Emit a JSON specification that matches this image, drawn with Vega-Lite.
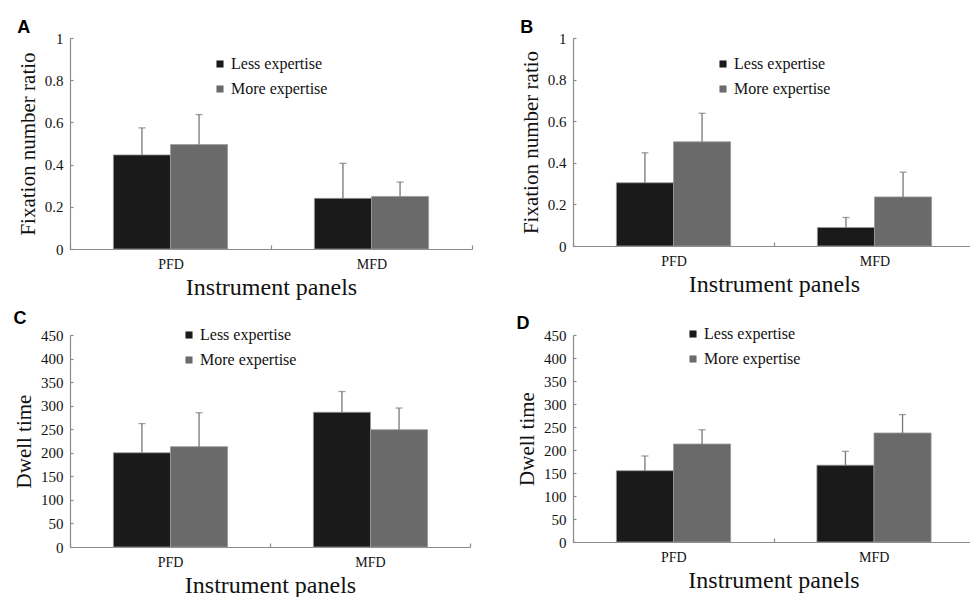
{
  "$schema": "https://vega.github.io/schema/vega-lite/v6.json",
  "background": "white",
  "padding": {"left": 13, "top": 19, "right": 0, "bottom": 0},
  "datasets": {
    "bars": [
      {"panel": "A", "instrument": "PFD", "group": "Less expertise", "mean": 0.446, "upper": 0.574},
      {"panel": "A", "instrument": "PFD", "group": "More expertise", "mean": 0.495, "upper": 0.637},
      {"panel": "A", "instrument": "MFD", "group": "Less expertise", "mean": 0.240, "upper": 0.406},
      {"panel": "A", "instrument": "MFD", "group": "More expertise", "mean": 0.249, "upper": 0.317},
      {"panel": "B", "instrument": "PFD", "group": "Less expertise", "mean": 0.304, "upper": 0.448},
      {"panel": "B", "instrument": "PFD", "group": "More expertise", "mean": 0.501, "upper": 0.638},
      {"panel": "B", "instrument": "MFD", "group": "Less expertise", "mean": 0.089, "upper": 0.137},
      {"panel": "B", "instrument": "MFD", "group": "More expertise", "mean": 0.236, "upper": 0.355},
      {"panel": "C", "instrument": "PFD", "group": "Less expertise", "mean": 200, "upper": 262},
      {"panel": "C", "instrument": "PFD", "group": "More expertise", "mean": 213, "upper": 285},
      {"panel": "C", "instrument": "MFD", "group": "Less expertise", "mean": 286, "upper": 330},
      {"panel": "C", "instrument": "MFD", "group": "More expertise", "mean": 249, "upper": 295},
      {"panel": "D", "instrument": "PFD", "group": "Less expertise", "mean": 155, "upper": 187},
      {"panel": "D", "instrument": "PFD", "group": "More expertise", "mean": 213, "upper": 244},
      {"panel": "D", "instrument": "MFD", "group": "Less expertise", "mean": 167, "upper": 197},
      {"panel": "D", "instrument": "MFD", "group": "More expertise", "mean": 237, "upper": 277}
    ]
  },
  "columns": 2,
  "spacing": {"column": 43, "row": 11},
  "resolve": {"legend": {"color": "independent"}, "scale": {"y": "independent"}},
  "concat": [
    {
      "title": {"text": "A", "offset": -6},
      "width": 402, "height": 211,
      "data": {"name": "bars"},
      "transform": [{"filter": "datum.panel === 'A'"}],
      "encoding": {
        "x": {"field": "instrument", "type": "nominal", "sort": ["PFD", "MFD"], "scale": {"paddingInner": 0, "paddingOuter": 0}, "title": "Instrument panels"},
        "xOffset": {"field": "group", "type": "nominal", "sort": ["Less expertise", "More expertise"], "scale": {"paddingInner": 0, "paddingOuter": 0.76}}
      },
      "layer": [
        {"mark": {"type": "bar", "stroke": "#9a9a9a", "strokeWidth": 0.8},
         "encoding": {
           "y": {"field": "mean", "type": "quantitative", "scale": {"domain": [0, 1]}, "axis": {"values": [0, 0.2, 0.4, 0.6, 0.8, 1], "format": "~g"}, "title": "Fixation number ratio"},
           "color": {"field": "group", "type": "nominal", "scale": {"domain": ["Less expertise", "More expertise"], "range": ["#1a1a1a", "#6a6a6a"]}, "legend": {"legendX": 142, "legendY": 18}}
         }},
        {"mark": {"type": "rule", "color": "#777777", "strokeWidth": 1.3},
         "encoding": {"y": {"field": "mean", "type": "quantitative", "axis": {"values": [0, 0.2, 0.4, 0.6, 0.8, 1], "format": "~g"}, "title": "Fixation number ratio"}, "y2": {"field": "upper"}}},
        {"mark": {"type": "tick", "color": "#777777", "size": 7, "thickness": 1.3},
         "encoding": {"y": {"field": "upper", "type": "quantitative", "axis": {"values": [0, 0.2, 0.4, 0.6, 0.8, 1], "format": "~g"}, "title": "Fixation number ratio"}}}
      ]
    },
    {
      "title": {"text": "B", "offset": -6},
      "width": 402, "height": 208,
      "data": {"name": "bars"},
      "transform": [{"filter": "datum.panel === 'B'"}],
      "encoding": {
        "x": {"field": "instrument", "type": "nominal", "sort": ["PFD", "MFD"], "scale": {"paddingInner": 0, "paddingOuter": 0}, "title": "Instrument panels"},
        "xOffset": {"field": "group", "type": "nominal", "sort": ["Less expertise", "More expertise"], "scale": {"paddingInner": 0, "paddingOuter": 0.76}}
      },
      "layer": [
        {"mark": {"type": "bar", "stroke": "#9a9a9a", "strokeWidth": 0.8},
         "encoding": {
           "y": {"field": "mean", "type": "quantitative", "scale": {"domain": [0, 1]}, "axis": {"values": [0, 0.2, 0.4, 0.6, 0.8, 1], "format": "~g"}, "title": "Fixation number ratio"},
           "color": {"field": "group", "type": "nominal", "scale": {"domain": ["Less expertise", "More expertise"], "range": ["#1a1a1a", "#6a6a6a"]}, "legend": {"legendX": 142, "legendY": 18}}
         }},
        {"mark": {"type": "rule", "color": "#777777", "strokeWidth": 1.3},
         "encoding": {"y": {"field": "mean", "type": "quantitative", "axis": {"values": [0, 0.2, 0.4, 0.6, 0.8, 1], "format": "~g"}, "title": "Fixation number ratio"}, "y2": {"field": "upper"}}},
        {"mark": {"type": "tick", "color": "#777777", "size": 7, "thickness": 1.3},
         "encoding": {"y": {"field": "upper", "type": "quantitative", "axis": {"values": [0, 0.2, 0.4, 0.6, 0.8, 1], "format": "~g"}, "title": "Fixation number ratio"}}}
      ]
    },
    {
      "title": {"text": "C", "offset": -1},
      "width": 400, "height": 212,
      "data": {"name": "bars"},
      "transform": [{"filter": "datum.panel === 'C'"}],
      "encoding": {
        "x": {"field": "instrument", "type": "nominal", "sort": ["PFD", "MFD"], "scale": {"paddingInner": 0, "paddingOuter": 0}, "title": "Instrument panels"},
        "xOffset": {"field": "group", "type": "nominal", "sort": ["Less expertise", "More expertise"], "scale": {"paddingInner": 0, "paddingOuter": 0.76}}
      },
      "layer": [
        {"mark": {"type": "bar", "stroke": "#9a9a9a", "strokeWidth": 0.8},
         "encoding": {
           "y": {"field": "mean", "type": "quantitative", "scale": {"domain": [0, 450]}, "axis": {"values": [0, 50, 100, 150, 200, 250, 300, 350, 400, 450]}, "title": "Dwell time"},
           "color": {"field": "group", "type": "nominal", "scale": {"domain": ["Less expertise", "More expertise"], "range": ["#1a1a1a", "#6a6a6a"]}, "legend": {"legendX": 111, "legendY": -8}}
         }},
        {"mark": {"type": "rule", "color": "#777777", "strokeWidth": 1.3},
         "encoding": {"y": {"field": "mean", "type": "quantitative", "axis": {"values": [0, 50, 100, 150, 200, 250, 300, 350, 400, 450]}, "title": "Dwell time"}, "y2": {"field": "upper"}}},
        {"mark": {"type": "tick", "color": "#777777", "size": 7, "thickness": 1.3},
         "encoding": {"y": {"field": "upper", "type": "quantitative", "axis": {"values": [0, 50, 100, 150, 200, 250, 300, 350, 400, 450]}, "title": "Dwell time"}}}
      ]
    },
    {
      "title": {"text": "D", "offset": -6, "dy": 1},
      "width": 401, "height": 207,
      "data": {"name": "bars"},
      "transform": [{"filter": "datum.panel === 'D'"}],
      "encoding": {
        "x": {"field": "instrument", "type": "nominal", "sort": ["PFD", "MFD"], "scale": {"paddingInner": 0, "paddingOuter": 0}, "title": "Instrument panels"},
        "xOffset": {"field": "group", "type": "nominal", "sort": ["Less expertise", "More expertise"], "scale": {"paddingInner": 0, "paddingOuter": 0.76}}
      },
      "layer": [
        {"mark": {"type": "bar", "stroke": "#9a9a9a", "strokeWidth": 0.8},
         "encoding": {
           "y": {"field": "mean", "type": "quantitative", "scale": {"domain": [0, 450]}, "axis": {"values": [0, 50, 100, 150, 200, 250, 300, 350, 400, 450]}, "title": "Dwell time"},
           "color": {"field": "group", "type": "nominal", "scale": {"domain": ["Less expertise", "More expertise"], "range": ["#1a1a1a", "#6a6a6a"]}, "legend": {"legendX": 112, "legendY": -9}}
         }},
        {"mark": {"type": "rule", "color": "#777777", "strokeWidth": 1.3},
         "encoding": {"y": {"field": "mean", "type": "quantitative", "axis": {"values": [0, 50, 100, 150, 200, 250, 300, 350, 400, 450]}, "title": "Dwell time"}, "y2": {"field": "upper"}}},
        {"mark": {"type": "tick", "color": "#777777", "size": 7, "thickness": 1.3},
         "encoding": {"y": {"field": "upper", "type": "quantitative", "axis": {"values": [0, 50, 100, 150, 200, 250, 300, 350, 400, 450]}, "title": "Dwell time"}}}
      ]
    }
  ],
  "config": {
    "font": "Liberation Serif",
    "view": {"stroke": null},
    "title": {"anchor": "start", "frame": "bounds", "font": "Liberation Sans", "fontSize": 18, "fontWeight": "bold", "color": "#000000"},
    "axis": {"grid": false, "labelFont": "Liberation Serif", "titleFont": "Liberation Serif", "titleFontWeight": "normal", "labelColor": "#111111", "titleColor": "#111111", "domainColor": "#8a8a8a", "tickColor": "#8a8a8a", "domainWidth": 1.2, "tickWidth": 1.2, "labelOverlap": false},
    "axisX": {"labelAngle": 0, "labelFontSize": 14, "titleFontSize": 24, "tickBand": "extent", "tickSize": -4, "labelPadding": 12, "titlePadding": 4},
    "axisY": {"labelFont": "Liberation Serif", "titleFont": "Liberation Serif", "labelFontSize": 15, "titleFontSize": 21, "tickSize": -3, "labelPadding": 10, "titlePadding": 6, "labelOverlap": false},
    "legend": {"orient": "none", "title": null, "symbolType": "square", "symbolSize": 50, "symbolStrokeWidth": 0, "labelFont": "Liberation Serif", "labelFontSize": 16, "labelColor": "#111111", "rowPadding": 9, "labelOffset": 3, "padding": 0}
  }
}
